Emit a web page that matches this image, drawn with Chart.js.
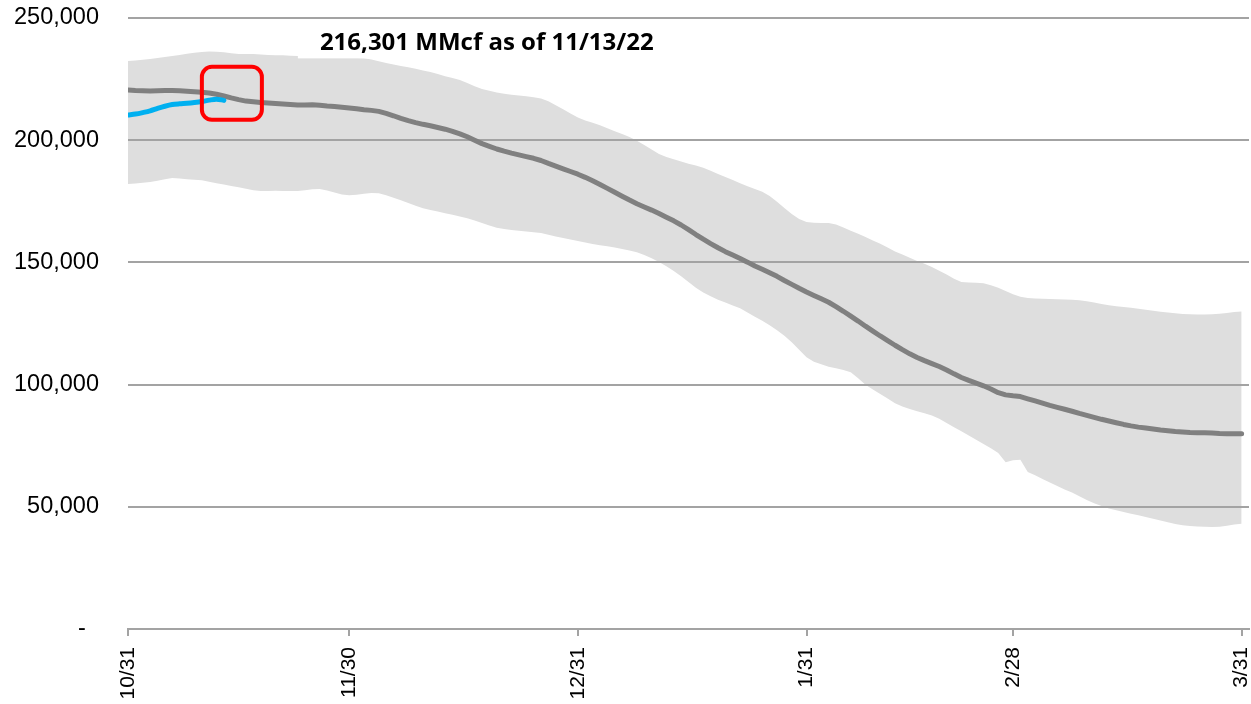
<!DOCTYPE html>
<html>
<head>
<meta charset="utf-8">
<script src="https://cdn.jsdelivr.net/npm/chart.js@4.4.1/dist/chart.umd.min.js"></script>
<style>
  html, body { margin: 0; padding: 0; background: #ffffff; overflow: hidden; }
  #wrap { position: relative; width: 1251px; height: 704px; }
</style>
</head>
<body>
<div id="wrap"><canvas id="c"></canvas></div>
<script>
// ---- Data (MMcf) ----
const tickLabels = ['10/31', '11/30', '12/31', '1/31', '2/28', '3/31'];

// Five-year average storage, 10/31 .. 3/31 (daily)
const avgValues = [
  220500,220300,220200,220100,220200,220300,220300,220200,220000,219800,
  219600,219300,218800,218100,217300,216600,216000,215700,215400,215200,
  215000,214800,214600,214400,214400,214500,214300,214000,213800,213500,
  213200,212900,212500,212200,211800,211000,210000,208900,208000,207200,
  206500,205900,205200,204500,203600,202600,201400,200000,198600,197500,
  196400,195500,194700,194000,193300,192600,191700,190500,189400,188300,
  187200,186100,184800,183400,181900,180300,178700,177100,175500,174000,
  172700,171400,170000,168500,167000,165300,163400,161400,159500,157700,
  156000,154400,153000,151600,150100,148500,147200,145800,144300,142600,
  141000,139400,137900,136500,135100,133700,131900,130000,128000,126000,
  123900,121900,119900,118000,116100,114300,112600,111100,109800,108600,
  107400,106000,104400,102900,101700,100600,99500,98200,96700,95800,
  95400,95100,94200,93300,92400,91500,90700,89900,89100,88200,
  87400,86600,85800,85100,84400,83700,83100,82600,82200,81800,
  81400,81100,80800,80600,80400,80300,80300,80200,80000,79900,
  79900,79900
];

// Five-year maximum
const maxValues = [
  232400,232600,232900,233200,233600,234000,234500,234900,235400,235800,
  236100,236300,236200,236000,235600,235300,235300,235300,235100,234900,
  234800,234800,234600,234500,234200,234000,233800,233600,233600,233600,
  233600,233600,233500,233000,232300,231600,231000,230400,229800,229200,
  228500,227900,227100,226200,225400,224600,223400,222100,221000,220200,
  219500,219000,218600,218300,218000,217600,217100,215900,214300,212700,
  210900,209300,208100,207100,206100,204900,203700,202500,201300,199800,
  198000,196200,194400,193100,192200,191300,190400,189600,188700,187500,
  186200,184900,183700,182400,181200,180000,178900,177200,174800,172300,
  169800,167800,166500,166200,166100,166100,165500,164300,163000,161700,
  160400,159000,157600,156100,154500,153200,151900,150600,149400,148100,
  146600,145000,143300,142000,141800,141700,141500,140700,139600,138300,
  137000,135900,135400,135200,135100,135000,134900,134800,134700,134500,
  134100,133600,133000,132500,132100,131800,131400,131000,130600,130200,
  129800,129500,129200,128900,128800,128700,128700,128800,129000,129300,
  129700,129900
];

// Five-year minimum
const minValues = [
  182100,182300,182600,182900,183400,184000,184500,184300,184000,183800,
  183600,183000,182400,181900,181300,180700,180100,179500,179200,179200,
  179300,179200,179200,179200,179500,179900,180000,179400,178600,177800,
  177500,177700,178100,178400,178300,177500,176500,175400,174300,173200,
  172200,171400,170800,170100,169500,168800,168100,167100,166100,165100,
  164200,163700,163300,162900,162600,162300,162000,161300,160600,160000,
  159400,158800,158100,157500,157000,156600,156100,155500,154900,154200,
  153000,151700,150200,148400,146500,144300,142000,139600,137700,136100,
  134700,133600,132400,131200,129500,127800,126100,124300,122200,120000,
  117300,114300,111200,109300,108300,107300,106700,106000,105100,102600,
  99900,98000,96200,94300,92400,91000,90000,89100,88300,87400,
  86000,84300,82600,80900,79200,77400,75700,74000,72000,68200,
  69000,69300,64200,62900,61400,59900,58500,57100,55800,54300,
  52800,51500,50300,49300,48600,47900,47200,46500,45800,45100,
  44400,43700,43000,42500,42100,41900,41800,41700,41800,42200,
  42800,43100
];

// Current season storage, 10/31 .. 11/13/22
const currentValues = [
  210300,210700,211300,212000,213000,213900,214600,214900,215100,215400,
  215800,216400,216800,216301
];
const asOfDate = '11/13/22';

// Day categories 10/31/22 .. 3/31/23
const dates = [];
(function () {
  const d0 = new Date(2022, 9, 31);
  for (let i = 0; i < avgValues.length; i++) {
    const d = new Date(d0.getFullYear(), d0.getMonth(), d0.getDate() + i);
    dates.push((d.getMonth() + 1) + '/' + d.getDate());
  }
})();
const tickIndexes = tickLabels.map(l => dates.indexOf(l));

// ---- Styles ----
const GRID_COLOR = '#a3a3a3';
const AXIS_COLOR = '#a3a3a3';
const BAND_COLOR = 'rgb(222,222,222)';
const AVG_COLOR = '#808080';
const CUR_COLOR = '#00b0f0';

const toXY = arr => arr.map((v, i) => ({ x: i, y: v }));

const overlay = {
  id: 'overlay',
  afterDatasetDraw(chart, args) {
    if (args.index !== 3) return; // after the range band: gridlines over band, under lines
    const { ctx, chartArea } = chart;
    const y = chart.scales.y;
    ctx.save();
    ctx.strokeStyle = GRID_COLOR;
    ctx.lineWidth = 2;
    y.ticks.forEach(t => {
      if (t.value <= 0) return;
      const py = Math.round(y.getPixelForValue(t.value));
      ctx.beginPath();
      ctx.moveTo(chartArea.left, py);
      ctx.lineTo(chartArea.right, py);
      ctx.stroke();
    });
    ctx.restore();
  },
  afterDatasetsDraw(chart) {
    const { ctx } = chart;
    const meta = chart.getDatasetMeta(0);
    const pt = meta.data[meta.data.length - 1];
    const last = currentValues[currentValues.length - 1];
    const text = last.toLocaleString('en-US') + ' MMcf as of ' + asOfDate;
    ctx.save();
    // white label box
    ctx.fillStyle = '#ffffff';
    ctx.fillRect(pt.x + 74, pt.y - 78, 380, 36);
    ctx.fillStyle = '#000000';
    ctx.font = 'bold 24px "Open Sans", "Liberation Sans", sans-serif';
    ctx.textAlign = 'left';
    ctx.textBaseline = 'alphabetic';
    ctx.fillText(text, pt.x + 96, pt.y - 50);
    // red highlight box
    const cx = pt.x + 8, cy = pt.y - 7, w = 60, h = 53, r = 10;
    ctx.strokeStyle = '#ff0000';
    ctx.lineWidth = 4;
    ctx.beginPath();
    const x0 = cx - w / 2, y0 = cy - h / 2;
    ctx.moveTo(x0 + r, y0);
    ctx.lineTo(x0 + w - r, y0);
    ctx.arcTo(x0 + w, y0, x0 + w, y0 + r, r);
    ctx.lineTo(x0 + w, y0 + h - r);
    ctx.arcTo(x0 + w, y0 + h, x0 + w - r, y0 + h, r);
    ctx.lineTo(x0 + r, y0 + h);
    ctx.arcTo(x0, y0 + h, x0, y0 + h - r, r);
    ctx.lineTo(x0, y0 + r);
    ctx.arcTo(x0, y0, x0 + r, y0, r);
    ctx.closePath();
    ctx.stroke();
    ctx.restore();
  }
};

new Chart(document.getElementById('c'), {
  type: 'line',
  data: {
    datasets: [
      { label: 'Current', data: toXY(currentValues), borderColor: CUR_COLOR, borderWidth: 5,
        pointRadius: 0, fill: false, tension: 0.3, borderCapStyle: 'round', borderJoinStyle: 'round' },
      { label: '5-yr avg', data: toXY(avgValues), borderColor: AVG_COLOR, borderWidth: 5,
        pointRadius: 0, fill: false, tension: 0, borderCapStyle: 'round', borderJoinStyle: 'round' },
      { label: 'Min', data: toXY(minValues), borderWidth: 0, borderColor: 'rgba(0,0,0,0)',
        pointRadius: 0, fill: false },
      { label: 'Max', data: toXY(maxValues), borderWidth: 0, borderColor: 'rgba(0,0,0,0)',
        backgroundColor: BAND_COLOR, pointRadius: 0, fill: '-1' }
    ]
  },
  options: {
    responsive: true,
    maintainAspectRatio: false,
    animation: false,
    layout: { padding: { top: 18, right: 2, bottom: 0, left: 0 } },
    plugins: { legend: { display: false }, tooltip: { enabled: false } },
    scales: {
      x: {
        type: 'linear',
        min: 0,
        max: 152,
        afterBuildTicks: s => { s.ticks = tickIndexes.map(v => ({ value: v })); },
        afterFit: s => { s.height = 75; s.paddingLeft = 0; s.paddingRight = 0; },
        ticks: {
          autoSkip: false,
          minRotation: 90,
          maxRotation: 90,
          padding: 11,
          color: '#000000',
          font: { family: '"Liberation Sans", Arial, sans-serif', size: 21 },
          callback: v => dates[v]
        },
        grid: { display: true, drawOnChartArea: false, drawTicks: true, tickLength: 7,
                color: AXIS_COLOR, lineWidth: 2 },
        border: { display: true, color: AXIS_COLOR, width: 2 }
      },
      y: {
        min: 0,
        max: 250000,
        afterFit: s => { s.width = 128; s.paddingTop = 0; s.paddingBottom = 0; },
        ticks: {
          stepSize: 50000,
          padding: 29,
          color: '#000000',
          font: { family: '"Liberation Sans", Arial, sans-serif', size: 23.5 },
          callback: v => (v === 0 ? '-  ' : v.toLocaleString('en-US'))
        },
        grid: { display: false, drawTicks: false },
        border: { display: false }
      }
    }
  },
  plugins: [overlay]
});
</script>
</body>
</html>
